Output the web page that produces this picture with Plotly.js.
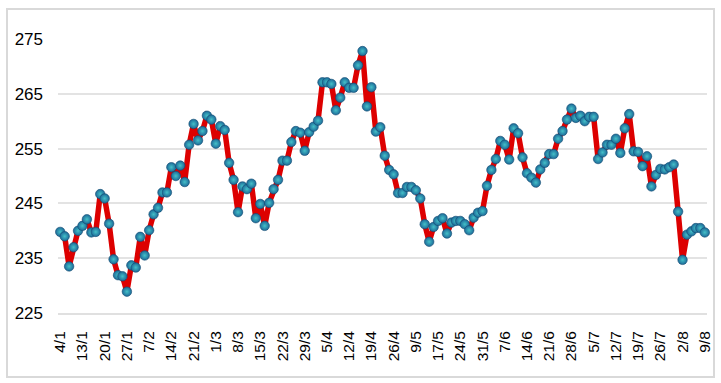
<!DOCTYPE html>
<html>
<head>
<meta charset="utf-8">
<script src="https://cdn.plot.ly/plotly-3.0.1.min.js"></script>
<style>
  html, body { margin: 0; padding: 0; background: #ffffff; }
  #chart { width: 721px; height: 383px; }
</style>
</head>
<body>
<div id="chart"></div>
<script>
// Weekly tick labels (one every 5 trading days)
const tickLabels = ['4/1','13/1','20/1','27/1','7/2','14/2','21/2','1/3','8/3','15/3',
  '22/3','29/3','5/4','12/4','19/4','26/4','9/5','17/5','24/5','31/5',
  '7/6','14/6','21/6','28/6','5/7','12/7','19/7','26/7','2/8','9/8'];
const pointsPerTick = 5;

// Daily values
const values = [
  239.8, 239.0, 233.5, 237.0, 240.0, 240.9, 242.1, 239.7, 239.8, 246.7,
  245.9, 241.3, 234.8, 231.9, 231.7, 228.9, 233.7, 233.3, 238.9, 235.5,
  240.1, 243.0, 244.2, 247.0, 247.0, 251.6, 250.0, 251.9, 248.9, 255.7,
  259.5, 256.5, 258.2, 261.0, 260.3, 255.9, 259.1, 258.4, 252.4, 249.3,
  243.4, 248.1, 247.6, 248.6, 242.3, 244.9, 240.9, 245.1, 247.6, 249.3,
  252.8, 252.8, 256.2, 258.2, 257.9, 254.6, 258.0, 259.0, 260.1, 267.1,
  267.1, 266.8, 262.0, 264.3, 267.1, 266.1, 266.1, 270.2, 272.8, 262.7,
  266.2, 258.1, 258.9, 253.7, 251.1, 250.3, 246.9, 246.9, 248.0, 248.0,
  247.4, 245.9, 241.2, 238.0, 240.7, 241.8, 242.3, 239.5, 241.5, 241.8,
  241.8, 241.2, 240.1, 242.4, 243.3, 243.6, 248.2, 251.1, 253.1, 256.4,
  255.7, 253.0, 258.7, 257.8, 253.4, 250.5, 249.7, 248.8, 251.2, 252.4,
  254.0, 254.0, 256.8, 258.2, 260.3, 262.3, 260.6, 261.0, 260.0, 260.8,
  260.8, 253.1, 254.3, 255.7, 255.7, 256.8, 254.2, 258.7, 261.3, 254.5,
  254.4, 251.8, 253.6, 248.1, 250.2, 251.3, 251.2, 251.6, 252.1, 243.5,
  234.7, 239.3, 239.9, 240.5, 240.5, 239.7
];

const xIdx = values.map((v, i) => i);
const tickVals = tickLabels.map((t, i) => i * pointsPerTick);

const font = 'Liberation Sans, Arial, sans-serif';

const traces = [{
  type: 'scatter',
  mode: 'lines+markers',
  x: xIdx,
  y: values,
  line: { color: '#dd0000', width: 5.5 },
  marker: {
    size: 9.5,
    color: '#1c6a98',
    gradient: { type: 'radial', color: '#44c0c8' },
    line: { color: '#134a70', width: 0.6 }
  },
  cliponaxis: false,
  hoverinfo: 'x+y'
}];

const layout = {
  width: 721,
  height: 383,
  margin: { l: 58, r: 14, t: 39, b: 70 },
  paper_bgcolor: '#ffffff',
  plot_bgcolor: '#ffffff',
  showlegend: false,
  font: { family: font, color: '#000000' },
  xaxis: {
    range: [-0.5, values.length - 0.5],
    tickmode: 'array',
    tickvals: tickVals,
    ticktext: tickLabels,
    tickangle: -90,
    tickfont: { family: font, size: 15.5, color: '#000000' },
    showgrid: false,
    zeroline: false,
    showline: true,
    linecolor: '#e0e0e0',
    linewidth: 2,
    ticks: '',
    ticklabelstandoff: 10
  },
  yaxis: {
    range: [225, 275],
    tickmode: 'array',
    tickvals: [225, 235, 245, 255, 265, 275],
    ticktext: ['225', '235', '245', '255', '265', '275'],
    tickfont: { family: font, size: 17, color: '#000000' },
    showgrid: true,
    gridcolor: '#e3e3e3',
    gridwidth: 2,
    zeroline: false,
    showline: false,
    ticks: '',
    ticklabelstandoff: 14
  },
  shapes: [{
    type: 'rect',
    xref: 'paper', yref: 'paper',
    x0: (7 - 58) / 649, x1: (714 - 58) / 649,
    y0: (313 - 377) / 274, y1: (313 - 9) / 274,
    line: { color: '#d9d9d9', width: 2 },
    fillcolor: 'rgba(0,0,0,0)',
    layer: 'below'
  }]
};

Plotly.newPlot('chart', traces, layout, { displayModeBar: false, staticPlot: true });
</script>
</body>
</html>
